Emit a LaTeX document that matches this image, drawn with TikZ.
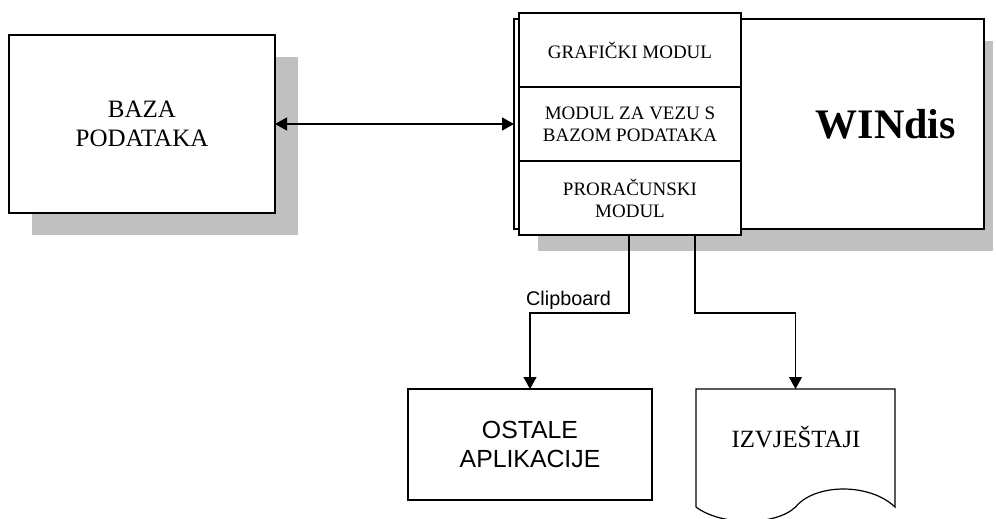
\documentclass[tikz,border=0pt]{standalone}
\usepackage{fontspec}
\setmainfont{Liberation Serif}
\setsansfont{Liberation Sans}
\usepackage{tikz}
\usetikzlibrary{positioning,arrows.meta,backgrounds}
\definecolor{sjenasiva}{HTML}{C0C0C0}
\tikzset{
  blok/.style={draw=black,fill=white,line width=0.6pt,outer sep=0pt,inner sep=0pt},
  kutija/.style={blok,minimum width=133pt,minimum height=89pt,align=center,font=\fontsize{12.5}{14.5}\selectfont},
  okvir/.style={blok,minimum width=235pt,minimum height=105pt},
  modul/.style={blok,minimum width=111pt,minimum height=37pt,align=center,font=\fontsize{9.5}{11}\selectfont},
  aplikacija/.style={blok,minimum width=122pt,minimum height=55.5pt,align=center,font=\sffamily\fontsize{12.4}{14.5}\selectfont},
  dokument/.style={minimum width=99.5pt,minimum height=59pt,outer sep=0pt,inner sep=0pt},
  sjena/.style={fill=sjenasiva,draw=none},
  spoj/.style={line width=0.6pt,draw=black,-{Triangle[length=6pt,width=6.5pt]}},
  dvosmjerna/.style={spoj,{Triangle[length=6pt,width=6.5pt]}-{Triangle[length=6pt,width=6.5pt]}}
}

\begin{document}
\begin{tikzpicture}[x=0.5pt,y=-0.5pt]
  \useasboundingbox (0,0) rectangle (996,519);
  % baza podataka
  \node[kutija] (baza) at (142,124) {BAZA\\PODATAKA};
  % WINdis s modulima
  \node[okvir] (windis) at (749,124) {};
  \node[modul] (graf) at (630,50) {GRAFIČKI MODUL};
  \node[modul,below=0pt of graf] (veza) {MODUL ZA VEZU S\\BAZOM PODATAKA};
  \node[modul,below=0pt of veza] (proracun) {PRORAČUNSKI\\MODUL};
  \node[font=\fontsize{21}{25}\selectfont\bfseries] (naziv) at (886,124) {WINdis};
  % izlazi
  \node[aplikacija] (ostale) at (530,444.5) {OSTALE\\APLIKACIJE};
  \node[dokument] (izv) at (795.5,448) {};
  \draw[line width=0.6pt] (izv.south west) -- (izv.north west) -- (izv.north east) -- (izv.south east)
    .. controls +(-25,-24) and +(20,-24) .. (izv.south)
    .. controls +(-20,19) and +(25,19) .. (izv.south west);
  \node[anchor=base,font=\fontsize{12.4}{14.5}\selectfont] (izvtekst) at (796,447) {IZVJEŠTAJI};
  \begin{scope}[on background layer]
    \fill[sjena] ([shift={(23,22)}]baza.north west) rectangle ([shift={(23,22)}]baza.south east);
    \fill[sjena] ([shift={(24,22)}]windis.north west) rectangle ([shift={(9,22)}]windis.south east);
  \end{scope}
  \draw[dvosmjerna] (baza.east) -- (windis.west);
  \draw[spoj] ([xshift=-0.5pt]proracun.south) -- ++(0,78) -| (ostale.north);
  \draw[spoj] ([xshift=32.5pt]proracun.south) -- ++(0,78) -| (izv.north);
  \node[anchor=base east,font=\sffamily\fontsize{9.9}{12}\selectfont] (oznaka) at (618,305) {Clipboard};
\end{tikzpicture}
\end{document}
